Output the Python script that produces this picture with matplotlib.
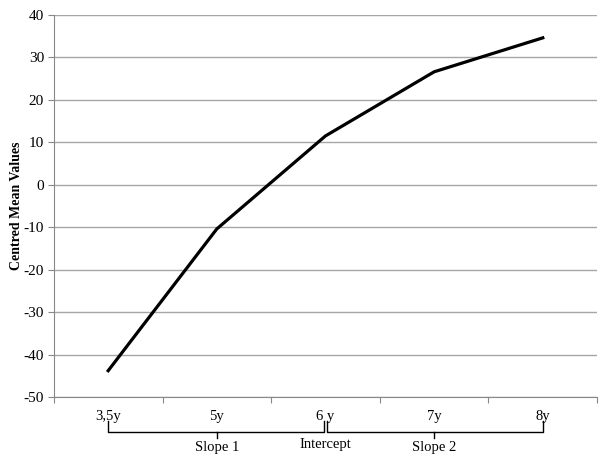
import matplotlib.pyplot as plt
import matplotlib.transforms as mtransforms
import numpy as np

# data
ages = ['3,5y', '5y', '6 y', '7y', '8y']
centred_means = [-43.8, -10.4, 11.5, 26.6, 34.6]
y_ticks = [-50, -40, -30, -20, -10, 0, 10, 20, 30, 40]

plt.rcParams['font.family'] = ['Liberation Serif', 'DejaVu Serif']
plt.rcParams['axes.unicode_minus'] = False

fig = plt.figure(figsize=(6.05, 4.66), dpi=100)
ax = fig.add_axes([0.089, 0.148, 0.898, 0.82])

x = np.arange(len(ages))
ax.plot(x, centred_means, color='black', linewidth=2.3, zorder=3)

ax.set_xlim(-0.5, len(ages) - 0.5)
ax.set_ylim(-50, 40)
ax.set_yticks(y_ticks)
ax.tick_params(axis='y', length=4, color='#888888', labelsize=11, pad=3)
ax.yaxis.grid(True, color='#a6a6a6', linewidth=1)
ax.set_axisbelow(True)

# category labels centered, tick marks at category boundaries
ax.set_xticks(np.arange(-0.5, len(ages) + 0.5, 1.0))
ax.set_xticklabels([])
ax.tick_params(axis='x', length=4, color='#888888')
trans = mtransforms.blended_transform_factory(ax.transData, ax.transAxes)
for xi, lab in zip(x, ages):
    ax.text(xi, -0.033, lab, transform=trans, ha='center', va='top', fontsize=10.5)

for side in ['top', 'right']:
    ax.spines[side].set_visible(False)
ax.spines['left'].set_color('#888888')
ax.spines['bottom'].set_color('#888888')

ax.set_ylabel('Centred Mean Values', fontweight='bold', fontsize=10)
ax.yaxis.set_label_coords(-0.057, 0.5)

# braces below the axis
y_line, y_top, y_bot = -0.092, -0.064, -0.108


def brace(x0, x1, xm):
    ax.plot([x0, x0, x1, x1], [y_top, y_line, y_line, y_top], color='black',
            linewidth=1, transform=trans, clip_on=False)
    ax.plot([xm, xm], [y_line, y_bot], color='black', linewidth=1,
            transform=trans, clip_on=False)


brace(0, 1.99, 1)
brace(2.015, 4, 3)

ax.text(1, -0.115, 'Slope 1', transform=trans, ha='center', va='top', fontsize=10.5)
ax.text(2.0, -0.108, 'Intercept', transform=trans, ha='center', va='top', fontsize=10.5)
ax.text(3, -0.115, 'Slope 2', transform=trans, ha='center', va='top', fontsize=10.5)

plt.savefig('out.png', dpi=100)
